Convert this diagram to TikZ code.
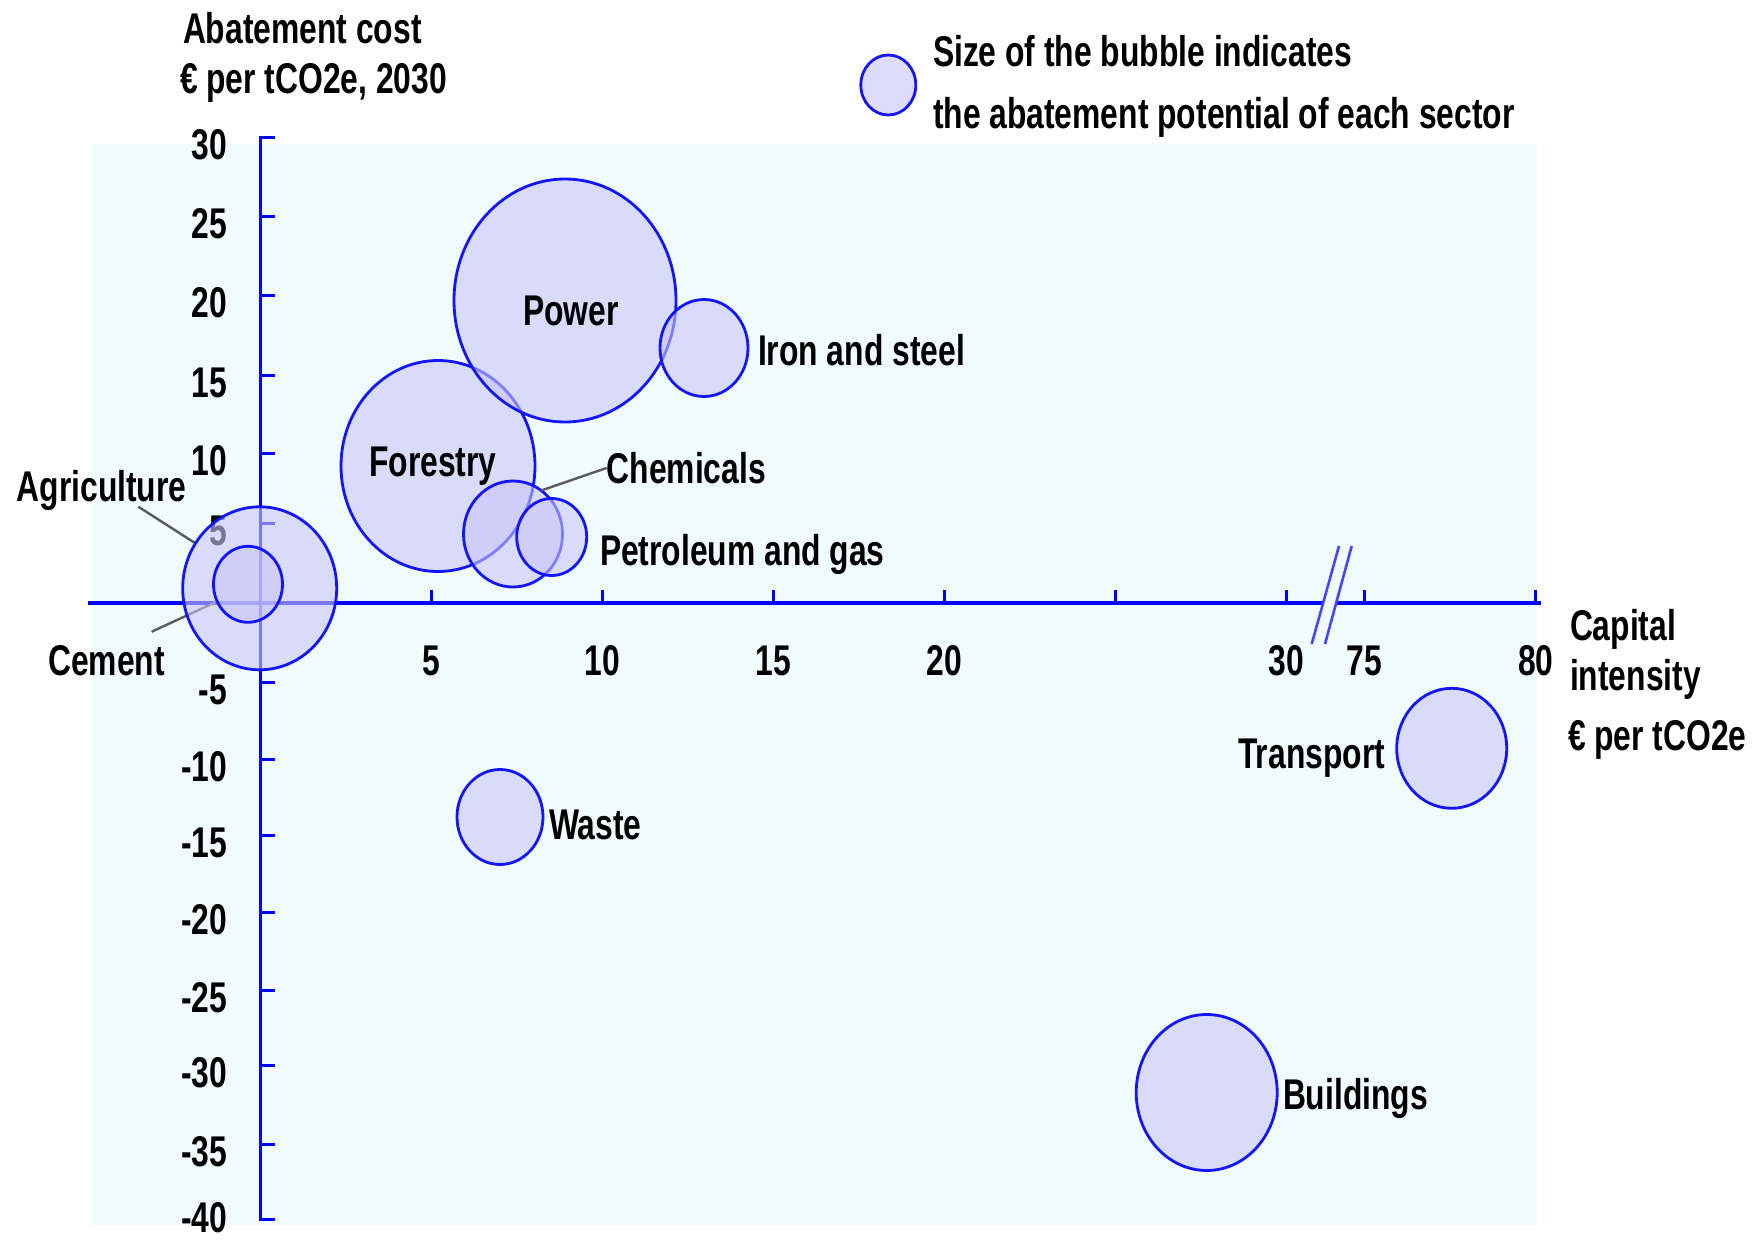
\documentclass[tikz,border=0pt]{standalone}
\usepackage{fontspec}
\newfontfamily\lblfont[FakeStretch=0.74]{Liberation Sans Bold}
\usetikzlibrary{shapes.geometric}
\definecolor{panelbg}{RGB}{240,252,252}
\definecolor{bubfill}{RGB}{200,198,248}
\definecolor{bubline}{RGB}{20,20,255}
\definecolor{axisblue}{RGB}{0,0,255}
\definecolor{breakblue}{RGB}{70,70,255}
\definecolor{leadgray}{RGB}{90,90,90}
\pgfdeclarelayer{bglayer}
\pgfsetlayers{bglayer,main}
\begin{document}
\begin{tikzpicture}[x=1pt,y=-1pt,
  txt/.style={font=\lblfont\fontsize{43}{50}\selectfont, inner sep=0pt, outer sep=0pt, text=black},
  bub/.style={ellipse, draw=bubline, line width=2.8pt, fill=bubfill, fill opacity=0.6, inner sep=0pt, outer sep=0pt},
  axisline/.style={draw=axisblue, line width=3pt},
  tickline/.style={draw=axisblue, line width=3pt},
  breakline/.style={draw=breakblue, line width=2.6pt},
  leader/.style={draw=leadgray, line width=2.4pt},
]
\useasboundingbox (0,0) rectangle (1756,1241);

% ---------- bubbles (main layer, in stacking order) ----------
\node[bub, minimum width=194pt, minimum height=211pt] (forestry) at (438,466) {};
\node[bub, minimum width=222pt, minimum height=243pt] (power) at (565,300.5) {};
\node[bub, minimum width=88pt, minimum height=97pt] (iron) at (704,348) {};
\node[bub, minimum width=99pt, minimum height=106pt] (chem) at (513,534) {};
\node[bub, minimum width=70pt, minimum height=77pt] (petro) at (551.7,537) {};
\node[bub, minimum width=154pt, minimum height=163pt] (agri) at (259.7,588.3) {};
\node[bub, minimum width=69pt, minimum height=76pt] (cement) at (248,584.3) {};
\node[bub, minimum width=86pt, minimum height=95pt] (waste) at (500,817) {};
\node[bub, minimum width=110pt, minimum height=120pt] (transport) at (1451.7,748.3) {};
\node[bub, minimum width=141pt, minimum height=156pt] (buildings) at (1206.7,1092.5) {};
\node[bub, minimum width=55pt, minimum height=60pt] (legend) at (888.3,85) {};

% ---------- background layer: panel, axes, ticks, tick labels, leaders ----------
\begin{pgfonlayer}{bglayer}
  \fill[white] (0,0) rectangle (1756,1241);
  \fill[panelbg] (91,144) rectangle (1537,1225);
  % axes
  \draw[axisline] (260,137) -- (260,1220);
  \draw[axisline, line width=3.5pt] (88,603) -- (1541,603);
  % y ticks and labels
  \foreach \v/\yy/\bl in {30/138/160,25/217/239,20/296/318,15/375/397,10/453/475,5/523/545,-5/682/704,-10/759/781,-15/835/857,-20/912/934,-25/990/1012,-30/1065/1087,-35/1144/1166,-40/1219/1232}{
    \draw[tickline] (258.5,\yy) -- (275,\yy);
    \node[txt, anchor=base east] (yl\v) at (227,\bl) {\v};
  }
  % x ticks and labels
  \foreach \xx/\t in {431.7/5,602.3/10,773.3/15,944/20,1286/30,1364.3/75,1535.7/80}{
    \draw[tickline] (\xx,604) -- (\xx,590);
    \node[txt, anchor=base] (xl\t) at (\xx,675) {\t};
  }
  \draw[tickline] (1115,604) -- (1115,590);
  % axis break
  \coordinate (brA) at (1311.7,644);
  \coordinate (brB) at (1339,546);
  \coordinate (brC) at (1325,644);
  \coordinate (brD) at (1351.7,546);
  \fill[panelbg] (brA) -- (brB) -- (brD) -- (brC) -- cycle;
  \draw[breakline] (brA) -- (brB);
  \draw[breakline] (brC) -- (brD);
  % leader lines
  \coordinate (agriA) at (138.3,506.7);
  \draw[leader] (agriA) -- (agri.145);
  \coordinate (cemA) at (151.7,631.7);
  \draw[leader] (cemA) -- (cement.209);
\end{pgfonlayer}

% ---------- labels ----------
\node[txt, anchor=base west] (ytitle1) at (183,43.3) {Abatement cost};
\node[txt, anchor=base west] (ytitle2) at (180,93.3) {€ per tCO2e, 2030};
\node[txt, anchor=base west] (leg1) at (933,66.7) {Size of the bubble indicates};
\node[txt, anchor=base west] (leg2) at (933,128.3) {the abatement potential of each sector};

\node[txt, anchor=base] (powerlbl) at (571,325) {Power};
\node[txt, anchor=base west] (ironlbl) at (758,365) {Iron and steel};
\node[txt, anchor=base] (forestrylbl) at (433,476) {Forestry};
\node[txt, anchor=base west] (chemlbl) at (606.7,483.3) {Chemicals};
\draw[leader] (chemlbl.west) -- (chem.57);
\node[txt, anchor=base west] (petrolbl) at (600,565) {Petroleum and gas};
\node[txt, anchor=base west] (agrilbl) at (16.7,501.7) {Agriculture};
\node[txt, anchor=base west] (cementlbl) at (48.3,675) {Cement};
\node[txt, anchor=base west] (wastelbl) at (549,839) {Waste};
\node[txt, anchor=base east] (transportlbl) at (1385,768) {Transport};
\node[txt, anchor=base west] (buildingslbl) at (1283,1109) {Buildings};

\node[txt, anchor=base west] (xtitle1) at (1570,640) {Capital};
\node[txt, anchor=base west] (xtitle2) at (1570,690) {intensity};
\node[txt, anchor=base west] (xtitle3) at (1568,750) {€ per tCO2e};
\end{tikzpicture}
\end{document}
